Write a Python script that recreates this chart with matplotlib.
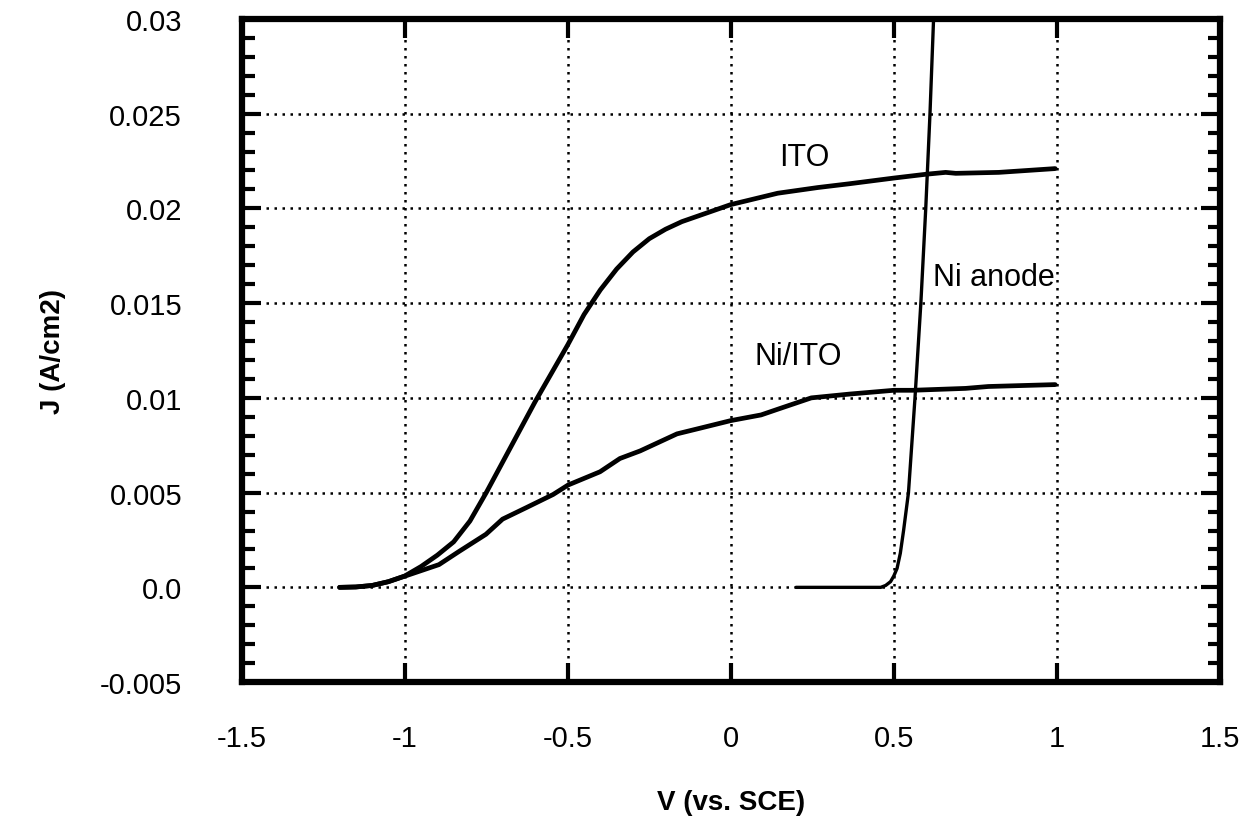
import matplotlib
matplotlib.use("Agg")
import matplotlib.pyplot as plt
from matplotlib.ticker import MultipleLocator, FixedFormatter, FixedLocator

plt.rcParams['font.family'] = ['Liberation Sans', 'DejaVu Sans']

# ---- data ----
ito_v = [-1.2, -1.15, -1.1, -1.05, -1.0, -0.95, -0.9, -0.85, -0.80, -0.75, -0.70, -0.65, -0.60,
         -0.55, -0.50, -0.45, -0.40, -0.35, -0.30, -0.25, -0.20, -0.15, -0.10, -0.05, 0.0,
         0.144, 0.267, 0.364, 0.5, 0.598, 0.659, 0.69, 0.822, 0.995]
ito_j = [0.0, 0.00002, 0.0001, 0.0003, 0.0006, 0.0011, 0.0017, 0.0024, 0.0035, 0.0050, 0.0066,
         0.0082, 0.0098, 0.0113, 0.0128, 0.0144, 0.0157, 0.0168, 0.0177, 0.0184, 0.0189, 0.0193,
         0.0196, 0.0199, 0.0202, 0.0208, 0.0211, 0.0213, 0.0216, 0.0218, 0.0219, 0.02185,
         0.0219, 0.0221]

niito_v = [-1.2, -1.15, -1.1, -1.05, -0.998, -0.895, -0.833, -0.751, -0.70, -0.628, -0.545,
           -0.499, -0.401, -0.34, -0.278, -0.165, -0.094, 0.0, 0.093, 0.144, 0.247, 0.364,
           0.5, 0.557, 0.72, 0.79, 0.995]
niito_j = [0.0, 0.00002, 0.0001, 0.0003, 0.0006, 0.0012, 0.0019, 0.0028, 0.0036, 0.0042, 0.0049,
           0.0054, 0.0061, 0.0068, 0.0072, 0.0081, 0.0084, 0.0088, 0.0091, 0.0094, 0.0100, 0.0102,
           0.0104, 0.0104, 0.0105, 0.0106, 0.0107]

ni_v = [0.2, 0.3, 0.4, 0.46, 0.475, 0.49, 0.50, 0.51, 0.52, 0.53, 0.545, 0.565, 0.583, 0.598,
        0.611, 0.622]
ni_j = [0.0, 0.0, 0.0, 0.0, 0.0001, 0.0003, 0.0006, 0.001, 0.0018, 0.003, 0.005, 0.0100, 0.0150,
        0.0200, 0.0250, 0.0300]

x_ticks = [-1.5, -1, -0.5, 0, 0.5, 1, 1.5]
x_labels = ['-1.5', '-1', '-0.5', '0', '0.5', '1', '1.5']
y_ticks = [-0.005, 0.0, 0.005, 0.01, 0.015, 0.02, 0.025, 0.03]
y_labels = ['-0.005', '0.0', '0.005', '0.01', '0.015', '0.02', '0.025', '0.03']

labels = ['ITO', 'Ni/ITO', 'Ni anode']
label_pos = [(0.225, 0.0227), (0.206, 0.0122), (0.807, 0.0164)]

# ---- figure ----
fig = plt.figure(figsize=(12.46, 8.29), dpi=100)
ax = fig.add_axes([0.194, 0.176, 0.785, 0.800])

ax.plot(ito_v, ito_j, color='black', lw=3.4, solid_capstyle='round', solid_joinstyle='round')
ax.plot(niito_v, niito_j, color='black', lw=3.4, solid_capstyle='round', solid_joinstyle='round')
ax.plot(ni_v, ni_j, color='black', lw=2.4, solid_capstyle='round', solid_joinstyle='round')

for t, (xv, yv) in zip(labels, label_pos):
    ax.text(xv, yv, t, fontsize=22, ha='center', va='center', color='black')

ax.set_xlim(-1.5, 1.5)
ax.set_ylim(-0.005, 0.03)

ax.xaxis.set_major_locator(FixedLocator(x_ticks))
ax.xaxis.set_major_formatter(FixedFormatter(x_labels))
ax.yaxis.set_major_locator(FixedLocator(y_ticks))
ax.yaxis.set_major_formatter(FixedFormatter(y_labels))
ax.yaxis.set_minor_locator(MultipleLocator(0.001))

ax.tick_params(axis='both', which='major', direction='in', length=14, width=3,
               labelsize=21, top=True, right=True)
ax.tick_params(axis='y', which='minor', direction='in', length=9, width=3, right=True, left=True)
ax.tick_params(axis='x', which='major', pad=30)
ax.tick_params(axis='y', which='major', pad=43)

for s in ax.spines.values():
    s.set_linewidth(4.5)

ax.grid(True, which='major', color='black', linestyle=(0, (1, 2.2)), linewidth=1.8)
ax.set_axisbelow(True)

ax.set_xlabel('V (vs. SCE)', fontsize=20, fontweight='bold', labelpad=27)
ax.set_ylabel('J (A/cm2)', fontsize=20, fontweight='bold', labelpad=24)

fig.savefig('out.png', dpi=100)
